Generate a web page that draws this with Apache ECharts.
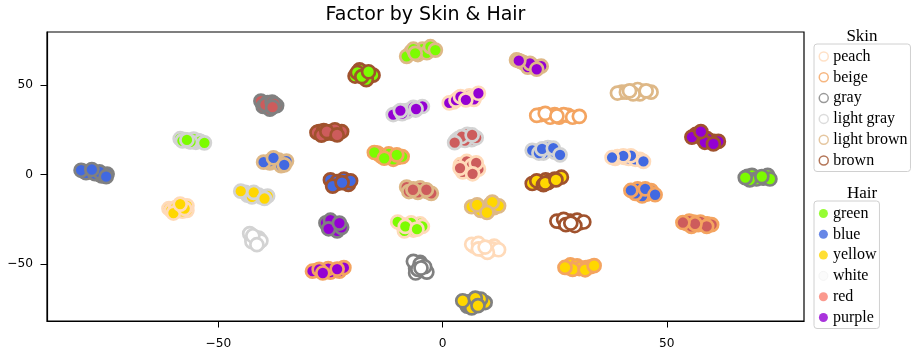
<!DOCTYPE html>
<html>
<head>
<meta charset="utf-8">
<script src="https://cdn.jsdelivr.net/npm/echarts@6/dist/echarts.min.js"></script>
<style>html,body{margin:0;padding:0;background:#fff}#c{width:911px;height:354px}</style>
</head>
<body>
<div id="c"></div>
<script>
const skinNames = ['peach','beige','gray','light gray','light brown','brown'];
const skinColors = ['#FFDAB9','#F4A460','#808080','#D3D3D3','#DEB887','#A0522D'];
const hairNames = ['green','blue','yellow','white','red','purple'];
const hairColors = ['#7CFC00','#4169E1','#FFD700','#FFFFFF','#CD5C5C','#9400D3'];
const hairLegendColors = ['#7CFC00','#4169E1','#FFD700','#FAFAFA','#FA8072','#9400D3'];
const xTicks = [-50, 0, 50];
const yTicks = [-50, 0, 50];

// peach skin
const peach_yellow = [[-59.0,-19.5],[-61.0,-19.0],[-57.0,-20.0],[-58.5,-17.5],[-60.5,-20.0],[-59.5,-18.5],[-57.0,-17.5],[-58.0,-20.5],[-60.0,-21.5],[-57.5,-19.0],[-58.5,-16.5]];
const peach_purple = [[2.5,40.5],[5.5,42.5],[6.0,44.0],[3.5,42.5],[1.5,40.0],[3.0,41.5],[6.5,43.0],[7.0,42.0],[4.0,43.5],[5.2,41.7],[8.0,45.4]];
const peach_red = [[5.0,5.0],[7.0,2.0],[6.0,3.5],[4.0,5.5],[5.4,7.3],[6.5,5.0],[8.0,3.0],[4.5,1.5],[7.5,6.5],[3.9,3.6],[6.7,0.4]];
const peach_green = [[-9.0,-28.0],[-6.0,-28.5],[-7.5,-30.0],[-5.0,-27.5],[-10.0,-26.5],[-7.0,-27.0],[-4.5,-29.0],[-6.5,-31.0],[-8.5,-31.5],[-8.3,-29.0],[-5.7,-30.5]];
const peach_white = [[7.0,-40.0],[9.0,-42.0],[11.5,-40.0],[10.5,-42.5],[6.5,-39.0],[8.0,-38.5],[11.0,-41.5],[12.5,-42.0],[10.0,-43.5],[8.0,-41.5],[9.5,-40.5]];
const peach_blue = [[38.5,9.0],[40.5,9.5],[42.5,9.5],[44.0,8.5],[39.0,10.0],[41.5,9.0],[43.0,8.5],[42.0,10.5],[40.3,10.4],[37.8,9.5],[44.8,7.3]];
// beige skin
const beige_green = [[-13.5,10.0],[-11.5,10.0],[-10.0,9.5],[-14.5,12.0],[-12.0,11.5],[-9.0,10.0],[-11.0,8.5],[-14.0,11.0],[-15.2,12.3],[-10.2,11.0],[-13.0,9.1]];
const beige_purple = [[-28.0,-53.5],[-26.0,-53.5],[-24.0,-53.5],[-23.0,-54.0],[-29.0,-54.0],[-25.0,-54.5],[-22.0,-52.0],[-25.5,-52.5],[-27.5,-53.0],[-26.7,-55.0],[-23.5,-52.8]];
const beige_white = [[22.0,33.5],[25.0,33.5],[28.0,33.0],[26.0,32.0],[21.0,33.0],[27.0,33.5],[29.0,32.0],[30.5,32.5],[24.0,32.0],[22.9,34.2],[25.5,32.7]];
const beige_blue = [[44.0,-9.5],[45.5,-11.0],[43.0,-9.0],[46.5,-9.0],[43.5,-8.0],[46.0,-10.0],[44.5,-12.0],[43.0,-10.5],[42.0,-8.9],[45.2,-8.0],[47.4,-11.3]];
const beige_red = [[54.5,-27.5],[57.0,-28.0],[59.0,-27.5],[56.0,-26.5],[55.0,-26.0],[57.5,-26.5],[60.0,-28.0],[55.5,-29.0],[58.9,-29.0],[56.3,-27.5],[53.6,-26.8]];
const beige_yellow = [[28.0,-52.0],[30.0,-52.0],[32.0,-52.0],[33.0,-51.5],[28.5,-50.5],[30.0,-51.0],[30.5,-52.5],[29.0,-53.0],[27.3,-51.9],[31.8,-53.2],[33.8,-50.9]];
// gray skin
const gray_blue = [[-78.5,1.5],[-76.5,0.0],[-80.0,1.8],[-76.0,-0.8],[-79.5,1.0],[-77.5,0.5],[-74.8,0.3],[-76.5,1.5],[-80.6,2.4],[-78.2,2.8],[-75.0,-1.2]];
const gray_red = [[-39.5,40.0],[-38.5,38.5],[-40.0,39.5],[-37.0,38.5],[-40.5,41.0],[-39.0,40.2],[-40.0,38.0],[-38.5,36.5],[-39.5,39.0],[-38.0,40.5],[-37.5,39.5],[-37.9,37.6]];
const gray_purple = [[-25.0,-28.0],[-24.0,-30.0],[-23.0,-28.5],[-25.5,-29.0],[-26.0,-27.0],[-24.0,-28.5],[-23.5,-31.5],[-25.0,-25.5],[-22.5,-29.5],[-25.4,-30.3],[-23.0,-27.1]];
const gray_white = [[-5.5,-51.0],[-4.5,-53.5],[-6.0,-52.5],[-5.0,-49.0],[-6.5,-48.5],[-5.0,-50.0],[-3.5,-54.5],[-6.0,-55.0],[-5.5,-53.0],[-4.0,-51.5],[-4.8,-52.2]];
const gray_yellow = [[6.0,-71.0],[8.0,-71.0],[7.0,-73.0],[5.5,-73.5],[5.5,-72.5],[9.5,-71.5],[6.5,-74.5],[8.5,-69.5],[4.5,-70.5],[7.3,-69.0],[7.9,-73.2]];
const gray_green = [[69.5,-1.5],[71.5,-2.0],[68.0,-1.0],[72.0,-1.5],[69.0,-0.5],[70.0,-2.5],[72.5,-0.5],[73.0,-2.5],[68.5,-3.0],[67.5,-1.7],[71.2,-1.1]];
// light gray skin
const lgray_green = [[-57.5,19.5],[-56.5,18.5],[-54.5,19.0],[-55.0,18.0],[-58.5,20.0],[-55.5,19.8],[-54.0,18.5],[-56.2,18.2],[-58.0,18.8],[-57.0,19.3],[-53.1,17.7]];
const lgray_yellow = [[-44.0,-10.0],[-42.0,-11.5],[-40.5,-12.5],[-43.5,-11.5],[-43.5,-10.5],[-41.0,-11.5],[-39.0,-12.0],[-42.5,-12.5],[-45.0,-9.3],[-42.1,-10.0],[-39.7,-13.4]];
const lgray_white = [[-42.0,-35.0],[-41.5,-36.5],[-42.5,-36.0],[-41.0,-38.0],[-43.0,-33.0],[-41.0,-35.5],[-42.5,-37.5],[-40.5,-37.0],[-42.3,-34.2],[-41.4,-39.2]];
const lgray_purple = [[-10.0,34.5],[-7.5,36.0],[-6.0,36.0],[-8.5,35.5],[-11.0,33.5],[-8.0,35.0],[-4.5,38.0],[-6.5,37.5],[-9.0,34.0],[-9.4,35.7],[-5.9,36.6]];
const lgray_red = [[4.0,19.5],[6.0,21.0],[6.5,19.5],[3.0,19.0],[3.5,20.0],[5.5,22.5],[7.5,20.5],[5.0,19.0],[4.3,21.2],[6.6,22.1],[2.7,17.8]];
const lgray_blue = [[21.0,13.0],[23.0,13.5],[24.5,13.5],[22.5,12.0],[20.0,13.5],[23.5,15.0],[25.0,12.5],[21.5,12.0],[22.2,14.3],[24.7,14.7],[26.2,11.0]];
// light brown skin
const lbrown_blue = [[-38.5,6.5],[-37.0,7.0],[-35.5,6.5],[-37.5,8.5],[-36.5,8.0],[-34.8,7.5],[-36.0,5.0],[-38.5,7.5],[-39.9,6.9],[-37.7,9.3],[-35.3,5.4]];
const lbrown_green = [[-7.0,68.5],[-5.0,69.0],[-3.0,70.0],[-5.5,67.0],[-8.0,66.0],[-4.5,70.0],[-3.5,68.0],[-6.5,70.0],[-2.7,71.4],[-1.6,69.5],[-6.1,67.7]];
const lbrown_purple = [[18.0,62.5],[20.0,61.0],[21.0,60.0],[17.5,63.0],[18.5,62.0],[22.0,60.5],[19.0,60.0],[16.5,64.0],[19.5,62.1],[17.0,63.6],[21.0,58.8]];
const lbrown_red = [[-6.5,-8.0],[-4.5,-8.5],[-3.5,-9.5],[-7.0,-9.0],[-8.0,-7.0],[-5.0,-7.5],[-2.5,-10.5],[-5.5,-10.0],[-7.5,-9.5],[-6.6,-8.5],[-3.6,-8.5]];
const lbrown_yellow = [[8.0,-18.5],[10.5,-17.0],[11.5,-18.5],[9.5,-19.5],[6.5,-18.0],[12.5,-17.5],[10.0,-18.5],[8.5,-20.0],[7.7,-16.9],[11.1,-15.4],[9.9,-21.2]];
const lbrown_white = [[40.0,46.0],[42.0,46.5],[44.5,46.5],[44.0,45.0],[39.0,45.5],[41.0,46.0],[43.5,47.5],[46.5,46.0],[42.5,45.0],[41.7,46.7],[45.4,46.7]];
// brown skin
const brown_green = [[-18.5,56.0],[-17.0,56.0],[-16.5,54.5],[-18.0,57.5],[-19.5,55.0],[-18.5,58.5],[-15.5,55.5],[-17.0,53.0],[-19.0,57.0],[-18.0,54.7],[-16.5,57.4]];
const brown_red = [[-26.0,23.0],[-25.0,24.0],[-23.5,23.5],[-27.5,24.0],[-28.0,23.5],[-26.5,24.5],[-24.5,23.0],[-22.5,24.0],[-27.0,22.0],[-24.0,25.0],[-25.8,24.0],[-23.5,22.1]];
const brown_blue = [[-23.5,-5.0],[-22.0,-4.0],[-24.0,-4.5],[-21.5,-4.5],[-25.0,-3.0],[-23.5,-4.0],[-21.0,-5.5],[-24.5,-6.5],[-22.0,-2.5],[-20.5,-3.5],[-22.4,-4.5]];
const brown_yellow = [[21.5,-4.5],[23.5,-4.5],[25.0,-2.5],[23.0,-3.0],[20.0,-5.0],[24.0,-3.5],[26.5,-1.5],[21.0,-3.5],[22.5,-5.7],[22.9,-4.8],[25.3,-3.0]];
const brown_purple = [[57.0,21.5],[59.5,19.0],[58.0,20.0],[60.5,18.5],[56.5,22.5],[59.0,20.0],[61.5,18.5],[58.5,18.0],[55.6,20.9],[57.6,24.0],[60.4,17.1]];
const brown_white = [[26.5,-26.5],[28.5,-26.0],[30.5,-27.0],[29.0,-27.5],[25.5,-26.0],[27.0,-25.0],[30.0,-25.5],[31.5,-26.5],[29.5,-28.5],[27.5,-28.0],[28.6,-27.1]];

const clusters = [
  [0,2,peach_yellow],[0,5,peach_purple],[0,4,peach_red],[0,0,peach_green],[0,3,peach_white],[0,1,peach_blue],
  [1,0,beige_green],[1,5,beige_purple],[1,3,beige_white],[1,1,beige_blue],[1,4,beige_red],[1,2,beige_yellow],
  [2,1,gray_blue],[2,4,gray_red],[2,5,gray_purple],[2,3,gray_white],[2,2,gray_yellow],[2,0,gray_green],
  [3,0,lgray_green],[3,2,lgray_yellow],[3,3,lgray_white],[3,5,lgray_purple],[3,4,lgray_red],[3,1,lgray_blue],
  [4,1,lbrown_blue],[4,0,lbrown_green],[4,5,lbrown_purple],[4,4,lbrown_red],[4,2,lbrown_yellow],[4,3,lbrown_white],
  [5,0,brown_green],[5,4,brown_red],[5,1,brown_blue],[5,2,brown_yellow],[5,5,brown_purple],[5,3,brown_white]
];

const series = [];
clusters.forEach((c, i) => {
  series.push({
    type: 'scatter', name: 'c' + i, data: c[2], symbol: 'circle', symbolSize: 13,
    itemStyle: { color: hairColors[c[1]], borderColor: skinColors[c[0]], borderWidth: 2.7, opacity: 1 },
    silent: true, z: 2
  });
});
skinNames.forEach((n, i) => series.push({ type: 'scatter', name: n, data: [],
  itemStyle: { color: '#fff', borderColor: skinColors[i], borderWidth: 1.5 } }));
hairNames.forEach((n, i) => series.push({ type: 'scatter', name: n, data: [],
  itemStyle: { color: hairLegendColors[i], borderColor: i === 3 ? '#f0f0f0' : hairLegendColors[i], borderWidth: i === 3 ? 0.8 : 0 } }));

const legendBase = {
  orient: 'vertical', left: 814, selectedMode: false,
  itemWidth: 9, itemHeight: 9, itemGap: 2.8,
  padding: [3.5, 3, 2, 4.5],
  borderColor: '#d0d0d0', borderWidth: 1, borderRadius: 3,
  textStyle: { fontFamily: 'Liberation Serif', fontSize: 16, color: '#000', lineHeight: 18 }
};

const fmt = v => String(v).replace('-', '\u2212');
const option = {
  animation: false,
  backgroundColor: '#fff',
  grid: { left: 47, right: 107, top: 32, bottom: 33, show: true, borderColor: '#000', borderWidth: 1.2 },
  xAxis: {
    type: 'value', min: -88.2, max: 80.6,
    splitLine: { show: false },
    axisLine: { show: true, onZero: false, lineStyle: { color: '#000', width: 1.2 } },
    axisTick: { show: true, length: 6.5, customValues: xTicks, lineStyle: { color: '#000' } },
    axisLabel: { customValues: xTicks, formatter: fmt, fontFamily: 'DejaVu Sans', fontSize: 12.2, color: '#000', margin: 17 }
  },
  yAxis: {
    type: 'value', min: -81.8, max: 79.6,
    splitLine: { show: false },
    axisLine: { show: true, onZero: false, lineStyle: { color: '#000', width: 1.2 } },
    axisTick: { show: true, length: 6.5, customValues: yTicks, lineStyle: { color: '#000' } },
    axisLabel: { customValues: yTicks, formatter: fmt, fontFamily: 'DejaVu Sans', fontSize: 12.2, color: '#000', margin: 14 }
  },
  legend: [
    Object.assign({}, legendBase, { top: 44, data: skinNames.map((n, i) => ({ name: n, icon: 'circle',
      itemStyle: { color: '#fff', borderColor: skinColors[i], borderWidth: 1.5 } })) }),
    Object.assign({}, legendBase, { top: 201, data: hairNames.map((n, i) => ({ name: n, icon: 'circle',
      itemStyle: { color: hairLegendColors[i], borderColor: i === 3 ? '#f0f0f0' : hairLegendColors[i], borderWidth: i === 3 ? 0.8 : 0 } })) })
  ],
  graphic: [
    { type: 'text', x: 425.5, y: 15.5, style: { text: 'Factor by Skin & Hair', fill: '#000',
      font: '19px "DejaVu Sans"', textAlign: 'center', textVerticalAlign: 'middle' } },
    { type: 'text', x: 862, y: 37, style: { text: 'Skin', fill: '#000',
      font: '17px "Liberation Serif"', textAlign: 'center', textVerticalAlign: 'middle' } },
    { type: 'text', x: 862, y: 193.5, style: { text: 'Hair', fill: '#000',
      font: '17px "Liberation Serif"', textAlign: 'center', textVerticalAlign: 'middle' } }
  ],
  series: series
};
const chart = echarts.init(document.getElementById('c'), null, { renderer: 'canvas' });
chart.setOption(option);
</script>
</body>
</html>
